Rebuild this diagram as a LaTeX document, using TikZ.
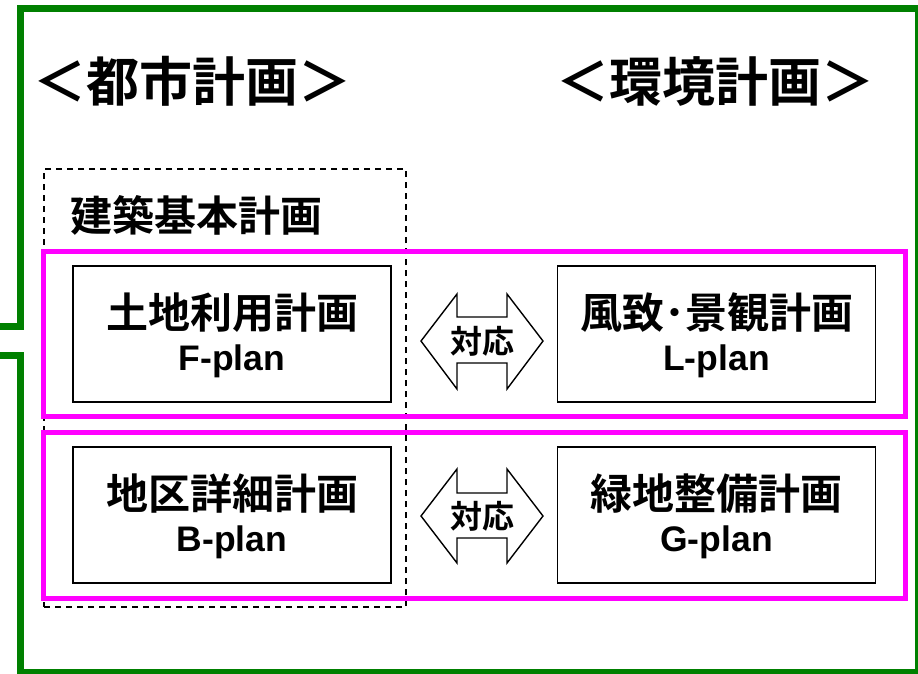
\documentclass[tikz,border=0pt]{standalone}
\usepackage{fontspec}
\newfontfamily\jp{Noto Sans CJK JP Bold}
\newfontfamily\lat{Liberation Sans}
\definecolor{frameGreen}{RGB}{0,128,0}
\definecolor{mag}{RGB}{255,0,255}
\tikzset{
  planbox/.style={draw=black, line width=1.8pt, minimum width=318pt, minimum height=136pt, inner sep=0pt},
  pairbox/.style={draw=mag, line width=5pt, minimum width=861.5pt, inner sep=0pt},
  groupbox/.style={draw=black, line width=1.3pt, dash pattern=on 6pt off 5pt, inner sep=0pt},
  title/.style={font=\jp\fontsize{53}{60}\selectfont, anchor=base, inner sep=0pt},
  jtext/.style={font=\jp\fontsize{42}{48}\selectfont, anchor=base, inner sep=0pt},
  ltext/.style={font=\lat\bfseries\fontsize{35.5}{40}\selectfont, anchor=base, inner sep=0pt},
  arrtext/.style={font=\jp\fontsize{32}{36}\selectfont, anchor=base, inner sep=0pt},
  dblarrow/.style={draw=black, line width=1.4pt, fill=white, line join=miter}
}
\begin{document}
\begin{tikzpicture}[x=1pt,y=-1pt]
\useasboundingbox (0,0) rectangle (918,673);
% green frame
\draw[frameGreen, line width=7pt, line join=miter]
  (0,326) -- (20.5,326) -- (20.5,8) -- (918.5,8) -- (918.5,672.5) -- (20.5,672.5) -- (20.5,355) -- (0,355);
% titles
\node[title] (tcity) at (192,101) {＜都市計画＞};
\node[title] (tenv) at (715,101) {＜環境計画＞};
% dashed group
\node[groupbox, minimum width=362pt, minimum height=438pt] (grp) at (225,388) {};
\node[jtext, anchor=base west] (grplabel) at (70,231) {建築基本計画};
% magenta pair boxes
\node[pairbox, minimum height=165pt] (pair1) at (474.25,333.5) {};
\node[pairbox, minimum height=166pt] (pair2) at (474.25,515) {};
% plan boxes
\node[planbox] (fbox) at (232,334) {};
\node[planbox] (lbox) at (716.5,334) {};
\node[planbox] (bbox) at (232,515) {};
\node[planbox] (gbox) at (716.5,515) {};
% texts
\node[jtext] (fj) at (232,328) {土地利用計画};
\node[ltext] (fl) at (232,370) {F-plan};
\node[jtext] (lj) at (716.5,328) {風致･景観計画};
\node[ltext] (ll) at (716.5,370) {L-plan};
\node[jtext] (bj) at (232,509) {地区詳細計画};
\node[ltext] (bl) at (232,551) {B-plan};
\node[jtext] (gj) at (716.5,509) {緑地整備計画};
\node[ltext] (gl) at (716.5,551) {G-plan};
% double arrows
\draw[dblarrow] (421,341) -- (457,294) -- (457,317) -- (507,317) -- (507,294) -- (543,341)
  -- (507,389) -- (507,363) -- (457,363) -- (457,389) -- cycle;
\node[arrtext] (a1) at (482,353) {対応};
\draw[dblarrow] (421,516) -- (457,469) -- (457,493) -- (507,493) -- (507,469) -- (543,516)
  -- (507,563) -- (507,538) -- (457,538) -- (457,563) -- cycle;
\node[arrtext] (a2) at (482,528) {対応};
\end{tikzpicture}
\end{document}
